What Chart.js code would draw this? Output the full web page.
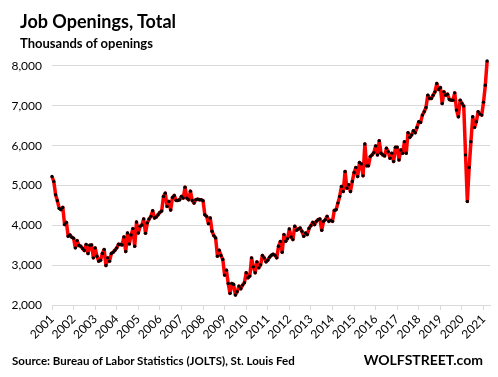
<!DOCTYPE html>
<html>
<head>
<meta charset="utf-8">
<script src="https://cdn.jsdelivr.net/npm/chart.js@4.4.1/dist/chart.umd.min.js"></script>
<style>
  html, body { margin: 0; padding: 0; background: #fff; }
  #wrap { position: relative; width: 498px; height: 377px; font-family: Lato, "Open Sans", sans-serif; color: #000; }
  #wrap canvas { position: absolute; left: 0; top: 0; }
  .txt { position: absolute; font-weight: bold; white-space: nowrap; line-height: 1; }
  #title { left: 20px; top: 12px; font-size: 18px; }
  #subtitle { left: 20px; top: 37px; font-size: 13px; }
  #source { left: 12px; top: 355px; font-size: 11.5px; }
  #brand { right: 15px; top: 353px; font-size: 14px; }
</style>
</head>
<body>
<div id="wrap">
  <canvas id="chart" width="498" height="377"></canvas>
  <div class="txt" id="title">Job Openings, Total</div>
  <div class="txt" id="subtitle">Thousands of openings</div>
  <div class="txt" id="source">Source: Bureau of Labor Statistics (JOLTS), St. Louis Fed</div>
  <div class="txt" id="brand">WOLFSTREET.com</div>
</div>
<script>
// monthly job openings (thousands), Jan 2001 .. Mar 2021, one row per year
const openings = [
  5225, 5100, 4767, 4617, 4425, 4393, 4450, 4018, 4075, 3725, 3758, 3700,
  3675, 3435, 3617, 3492, 3475, 3417, 3367, 3517, 3292, 3500, 3508, 3183,
  3433, 3225, 3100, 3125, 3292, 3392, 2992, 3183, 3100, 3292, 3325, 3375,
  3433, 3525, 3517, 3508, 3708, 3342, 3808, 3533, 3758, 3917, 3475, 4083,
  3808, 3975, 4008, 4158, 3800, 4058, 4158, 4225, 4367, 4183, 4208, 4267,
  4325, 4358, 4725, 4808, 4475, 4600, 4383, 4700, 4750, 4625, 4625, 4642,
  4725, 4683, 4958, 4683, 4642, 4858, 4625, 4558, 4642, 4658, 4642, 4642,
  4617, 4267, 4225, 4042, 4183, 3850, 3742, 3683, 3225, 3375, 3242, 3142,
  2750, 2875, 2542, 2292, 2542, 2517, 2250, 2333, 2475, 2408, 2500, 2558,
  2808, 2683, 2725, 3183, 2958, 2808, 3083, 2933, 3008, 3242, 3183, 3083,
  3125, 3200, 3250, 3275, 3250, 3183, 3475, 3592, 3325, 3767, 3600, 3667,
  3908, 3708, 3642, 3975, 3875, 3908, 3933, 3850, 3725, 3808, 3767, 3925,
  3992, 4075, 4017, 4100, 4142, 4158, 3875, 4100, 4142, 4225, 4100, 4125,
  4100, 4375, 4392, 4558, 4725, 4975, 4850, 5350, 4933, 5017, 4850, 5100,
  5325, 5450, 5225, 5575, 5542, 5242, 6042, 5492, 5492, 5725, 5767, 5825,
  5992, 5767, 6125, 5808, 5767, 5742, 5933, 5850, 5683, 5808, 5600, 5958,
  5958, 5642, 5892, 5808, 6100, 5808, 6325, 6208, 6267, 6375, 6325, 6458,
  6600, 6583, 6767, 6850, 6958, 7267, 7183, 7183, 7267, 7350, 7558, 7408,
  7458, 7058, 7350, 7267, 7292, 7158, 7142, 7142, 7325, 6892, 6725, 7142,
  7058, 6992, 5767, 4600, 5450, 6100, 6725, 6458, 6600, 6850, 6792, 6767,
  7092, 7517, 8125
];
const startYear = 2001;
const yearLabels = [2001, 2002, 2003, 2004, 2005, 2006, 2007, 2008, 2009, 2010,
  2011, 2012, 2013, 2014, 2015, 2016, 2017, 2018, 2019, 2020, 2021];
const yTicks = [2000, 3000, 4000, 5000, 6000, 7000, 8000];

// month i sits at startYear + i/12 on the time axis
const points = openings.map((v, i) => ({ x: startYear + i / 12, y: v }));

const tickFont = { family: 'Lato, "Open Sans", sans-serif', size: 12 };

new Chart(document.getElementById('chart'), {
  type: 'line',
  data: {
    datasets: [{
      data: points,
      borderColor: '#ff0000',
      borderWidth: 3.5,
      borderJoinStyle: 'round',
      tension: 0,
      pointRadius: 1.7,
      pointBackgroundColor: '#000',
      pointBorderWidth: 0,
      clip: false
    }]
  },
  options: {
    responsive: false,
    animation: false,
    layout: { padding: { top: 54, right: 8, bottom: 32, left: 0 } },
    plugins: { legend: { display: false }, tooltip: { enabled: false } },
    scales: {
      x: {
        type: 'linear',
        min: yearLabels[0],
        max: 2021.3,
        afterBuildTicks: s => { s.ticks = yearLabels.map(v => ({ value: v })); },
        afterFit: s => { s.height = 40; },
        grid: { drawOnChartArea: false, drawTicks: true, tickLength: 5, color: '#d9d9d9' },
        border: { display: true, color: '#d9d9d9' },
        ticks: {
          autoSkip: false,
          minRotation: 45,
          maxRotation: 45,
          padding: 2,
          color: '#000',
          font: tickFont,
          callback: v => String(v)
        }
      },
      y: {
        type: 'linear',
        min: yTicks[0],
        max: 8300,
        afterBuildTicks: s => { s.ticks = yTicks.map(v => ({ value: v })); },
        afterFit: s => { s.width = 52; },
        grid: { drawTicks: false, color: '#d9d9d9' },
        border: { display: false },
        ticks: {
          autoSkip: false,
          padding: 10,
          color: '#000',
          font: tickFont,
          callback: v => v.toLocaleString('en-US')
        }
      }
    }
  }
});
</script>
</body>
</html>
